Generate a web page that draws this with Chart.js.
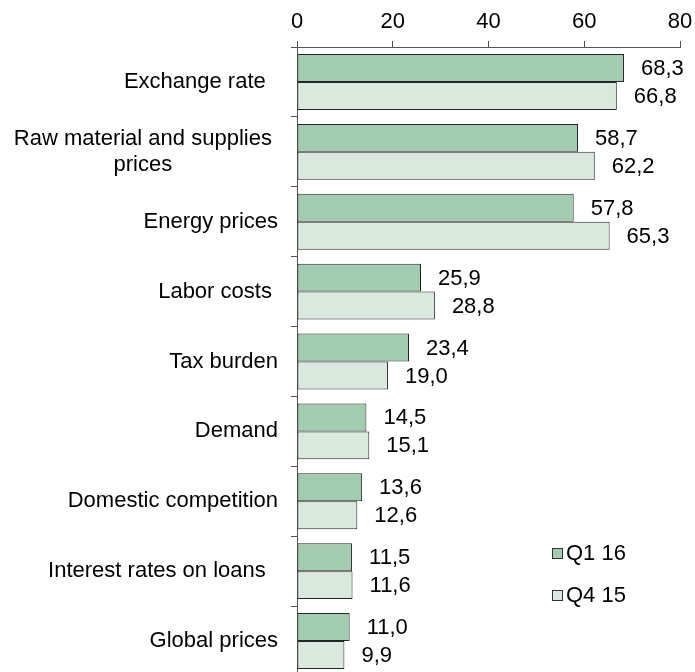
<!DOCTYPE html>
<html>
<head>
<meta charset="utf-8">
<script src="https://cdn.jsdelivr.net/npm/chart.js@4"></script>
<style>
  html, body { margin: 0; padding: 0; overflow: hidden; background: #fff; }
  #wrap { width: 695px; height: 676px; position: relative; }
</style>
</head>
<body>
<div id="wrap"><canvas id="myChart"></canvas></div>
<script>
const ctx = document.getElementById('myChart');

// categories (trailing spaces are in the source labels)
let labels = [
    "Exchange rate  ",
    ["Raw material and supplies ", "prices "],
    "Energy prices",
    "Labor costs ",
    "Tax burden",
    "Demand",
    "Domestic competition",
    "Interest rates on loans  ",
    "Global prices"
];

let q116 = [68.3, 58.7, 57.8, 25.9, 23.4, 14.5, 13.6, 11.5, 11.0];
let q415 = [66.8, 62.2, 65.3, 28.8, 19.0, 15.1, 12.6, 11.6, 9.9];

let xTicks = [0, 20, 40, 60, 80];

const FONT = '"Liberation Sans", Arial, sans-serif';
const fontSize = 22;

// value labels to the right of each bar, comma decimal
const valueLabels = {
    id: 'valueLabels',
    afterDatasetsDraw(chart) {
        const c = chart.ctx;
        c.save();
        c.font = fontSize + 'px ' + FONT;
        c.fillStyle = '#000';
        c.textAlign = 'left';
        c.textBaseline = 'middle';
        chart.data.datasets.forEach((ds, i) => {
            chart.getDatasetMeta(i).data.forEach((bar, j) => {
                const txt = ds.data[j].toFixed(1).replace('.', ',');
                c.fillText(txt, bar.x + 17, bar.y + 1);
            });
        });
        c.restore();
    }
};

// category labels, lines centred inside a right-aligned block
const catLabels = {
    id: 'catLabels',
    afterDraw(chart) {
        const c = chart.ctx;
        const y = chart.scales.y;
        const right = y.right - 19;
        c.save();
        c.font = fontSize + 'px ' + FONT;
        c.fillStyle = '#000';
        c.textAlign = 'center';
        c.textBaseline = 'middle';
        chart.data.labels.forEach((lab, i) => {
            const lines = Array.isArray(lab) ? lab : [lab];
            const w = Math.max(...lines.map(l => c.measureText(l).width));
            const cx = right - w / 2;
            const cy = y.getPixelForValue(i);
            const lh = 26;
            lines.forEach((l, k) => {
                c.fillText(l, cx, cy + (k - (lines.length - 1) / 2) * lh);
            });
        });
        c.restore();
    }
};

// legend inside the plot, lower right
const innerLegend = {
    id: 'innerLegend',
    afterDraw(chart) {
        const c = chart.ctx;
        c.save();
        c.font = fontSize + 'px ' + FONT;
        c.textBaseline = 'middle';
        c.textAlign = 'left';
        chart.data.datasets.forEach((ds, i) => {
            const top = 548 + i * 42;
            c.fillStyle = ds.backgroundColor;
            c.fillRect(552, top, 10, 10);
            c.strokeStyle = '#333';
            c.lineWidth = 1;
            c.strokeRect(552.5, top + 0.5, 10, 10);
            c.fillStyle = '#000';
            c.fillText(ds.label, 566, top + 6);
        });
        c.restore();
    }
};

const chart = new Chart(ctx, {
    type: 'bar',
    data: {
        labels: labels,
        datasets: [
            {
                label: 'Q1 16',
                data: q116,
                backgroundColor: '#a3cbb0',
                borderColor: '#262626',
                borderWidth: 1,
                borderSkipped: false
            },
            {
                label: 'Q4 15',
                data: q415,
                backgroundColor: '#d9e9de',
                borderColor: '#262626',
                borderWidth: 1,
                borderSkipped: false
            }
        ]
    },
    options: {
        indexAxis: 'y',
        responsive: true,
        maintainAspectRatio: false,
        animation: false,
        layout: { padding: { left: 0, right: 15, top: 0, bottom: 0 } },
        datasets: {
            bar: { categoryPercentage: 0.8, barPercentage: 1.0 }
        },
        plugins: {
            legend: { display: false },
            tooltip: { enabled: false }
        },
        scales: {
            x: {
                position: 'top',
                min: 0,
                max: 80,
                afterBuildTicks: (s) => { s.ticks = xTicks.map(v => ({ value: v })); },
                afterFit: (s) => {
                    s.height = 47;
                    s.paddingLeft = 0;
                    s.paddingRight = 0;
                },
                grid: { drawOnChartArea: false, tickLength: 6, color: '#555' },
                border: { display: true, color: '#555' },
                ticks: {
                    padding: 6,
                    color: '#000',
                    font: { family: FONT, size: fontSize }
                }
            },
            y: {
                afterFit: (s) => { s.width = 297; },
                grid: { drawOnChartArea: false, tickLength: 6, color: '#555', offset: true },
                border: { display: true, color: '#555' },
                ticks: { display: false }
            }
        }
    },
    plugins: [valueLabels, catLabels, innerLegend]
});
</script>
</body>
</html>
